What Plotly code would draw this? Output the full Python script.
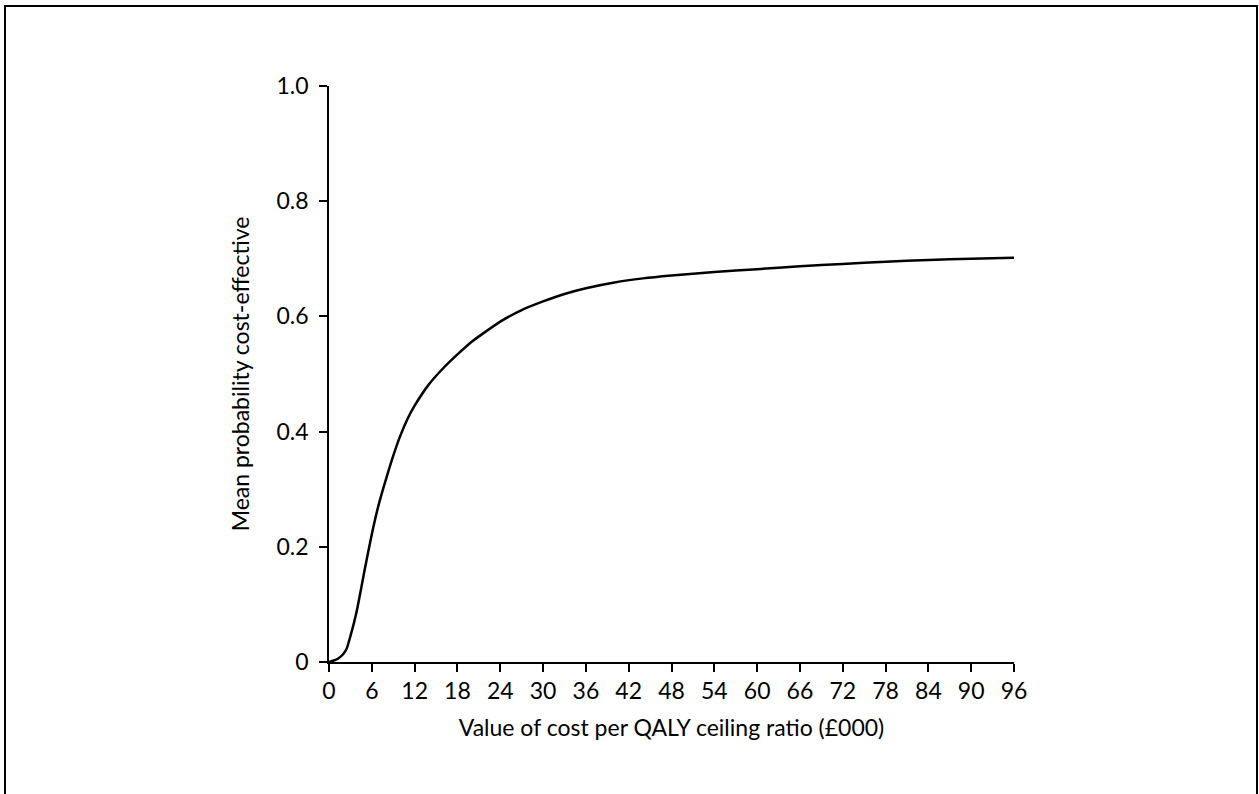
import plotly.graph_objects as go

ceiling_k = [0, 1, 1.5, 2, 2.5, 3, 3.5, 4, 5, 6, 7, 8, 9, 10, 11, 12, 14, 16, 18, 20,
             22, 24, 27, 30, 33, 36, 40, 44, 48, 54, 60, 66, 72, 78, 84, 90, 96]
prob_ce = [0, 0.004, 0.008, 0.014, 0.024, 0.045, 0.068, 0.095, 0.160, 0.222, 0.275,
           0.318, 0.358, 0.393, 0.422, 0.445, 0.482, 0.510, 0.534, 0.556, 0.574,
           0.591, 0.611, 0.626, 0.639, 0.649, 0.659, 0.666, 0.671, 0.677, 0.682,
           0.687, 0.691, 0.695, 0.698, 0.700, 0.702]

x_ticks = list(range(0, 97, 6))
y_ticks = [0, 0.2, 0.4, 0.6, 0.8, 1.0]
y_tick_labels = ["0", "0.2", "0.4", "0.6", "0.8", "1.0"]

FONT = "Lato, 'Open Sans', sans-serif"

fig = go.Figure()
fig.add_trace(go.Scatter(x=ceiling_k, y=prob_ce, mode="lines",
                         line=dict(color="black", width=2.5, shape="spline", smoothing=0.5),
                         showlegend=False, hoverinfo="skip"))

W, H = 1259, 794
L, R, T, B = 329, 245, 86, 132
pw, ph = W - L - R, H - T - B

def px2paper_x(px):
    return (px - L) / pw

def px2paper_y(py):
    return (H - B - py) / ph

fig.add_shape(type="rect", xref="paper", yref="paper",
              x0=px2paper_x(5), x1=px2paper_x(1257),
              y0=px2paper_y(810), y1=px2paper_y(6),
              line=dict(color="black", width=2), layer="below")

fig.update_layout(
    width=W, height=H,
    margin=dict(l=L, r=R, t=T, b=B),
    plot_bgcolor="white", paper_bgcolor="white",
    font=dict(family=FONT, size=23, color="black"),
    xaxis=dict(range=[0, 96], tickvals=x_ticks, ticktext=[str(v) for v in x_ticks],
               showline=True, linecolor="black", linewidth=1.5,
               ticks="outside", ticklen=8, tickwidth=1.5, tickcolor="black",
               showgrid=False, zeroline=False,
               title=dict(text="Value of cost per QALY ceiling ratio (£000)",
                          font=dict(size=23), standoff=17)),
    yaxis=dict(range=[0, 1], tickvals=y_ticks, ticktext=y_tick_labels,
               showline=True, linecolor="black", linewidth=1.5,
               ticks="outside", ticklen=8, tickwidth=1.5, tickcolor="black",
               ticklabelstandoff=6,
               showgrid=False, zeroline=False,
               title=dict(text="Mean probability cost-effective",
                          font=dict(size=23), standoff=20)),
)

fig.write_html("out.html")
